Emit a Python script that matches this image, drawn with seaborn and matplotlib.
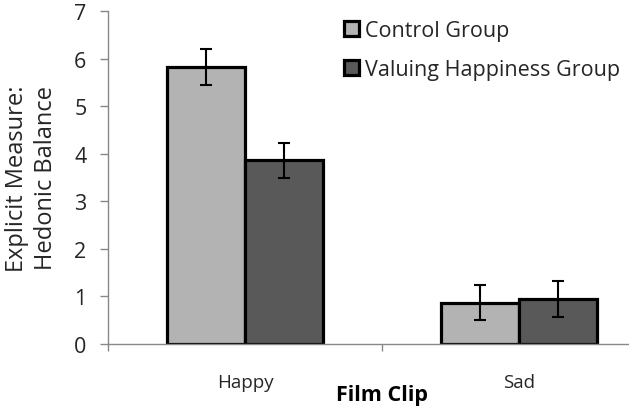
import pandas as pd
import matplotlib
matplotlib.use('Agg')
from matplotlib import pyplot as plt
import seaborn as sns

# values
clips = ['Happy', 'Sad']
groups = ['Control Group', 'Valuing Happiness Group']
control_mean = [5.83, 0.87]
valuing_mean = [3.86, 0.94]
control_err = [0.38, 0.37]
valuing_err = [0.37, 0.38]

df = pd.DataFrame({
    'Clip': clips * 2,
    'Group': [groups[0]] * 2 + [groups[1]] * 2,
    'Score': control_mean + valuing_mean,
})
errs = [control_err, valuing_err]

sns.set_style('white')
plt.rcParams['font.family'] = ['Open Sans', 'DejaVu Sans']

fig = plt.figure(figsize=(6.29, 4.10), dpi=100)
ax = fig.add_axes([108 / 629, 65 / 410, 548 / 629, 333 / 410])

sns.barplot(data=df, x='Clip', y='Score', hue='Group', order=clips, hue_order=groups,
            palette=['#b3b3b3', '#595959'], width=0.57, gap=0, errorbar=None,
            edgecolor='black', linewidth=2.3, ax=ax)

# error bars on top of each bar
for cont, e in zip(ax.containers, errs):
    for bar, err in zip(cont, e):
        cx = bar.get_x() + bar.get_width() / 2
        ax.errorbar(cx, bar.get_height(), yerr=err, fmt='none', ecolor='black',
                    elinewidth=1.5, capsize=4, capthick=1.5, zorder=5)

ax.set_ylim(0, 7)
ax.set_xlim(-0.5, 1.5)
ax.set_yticks(range(0, 8))
ax.tick_params(axis='y', labelsize=15.5, length=5.5, color='#888888', width=1,
               labelcolor='#262626', pad=10, left=True)

ax.set_xticks([-0.5, 0.5, 1.5])
ax.set_xticklabels([])
ax.set_xticks([0, 1], minor=True)
ax.set_xticklabels(clips, minor=True)
ax.tick_params(axis='x', which='major', length=5, color='#888888', width=1, bottom=True)
ax.tick_params(axis='x', which='minor', length=0, labelsize=13.5, labelcolor='#262626', pad=21)

for s in ['top', 'right']:
    ax.spines[s].set_visible(False)
for s in ['left', 'bottom']:
    ax.spines[s].set_color('#888888')
    ax.spines[s].set_linewidth(1)

ax.set_xlabel('Film Clip', fontsize=15.5, fontweight='bold', color='black')
ax.xaxis.set_label_coords(0.5, -0.12)
ax.set_ylabel('Explicit Measure:\nHedonic Balance', fontsize=17, color='#262626',
              linespacing=1.3)
ax.yaxis.label.set_va('center')
ax.yaxis.set_label_coords(-0.14, 0.5)

leg = ax.legend(loc='upper left', bbox_to_anchor=(333 / 629, 1 - 10 / 410),
                bbox_transform=fig.transFigure, frameon=False, fontsize=15.5,
                handlelength=0.7, handleheight=0.7, handletextpad=0.3,
                labelspacing=0.85, borderpad=0)
for t in leg.get_texts():
    t.set_color('#262626')

fig.savefig('out.png', dpi=100)
